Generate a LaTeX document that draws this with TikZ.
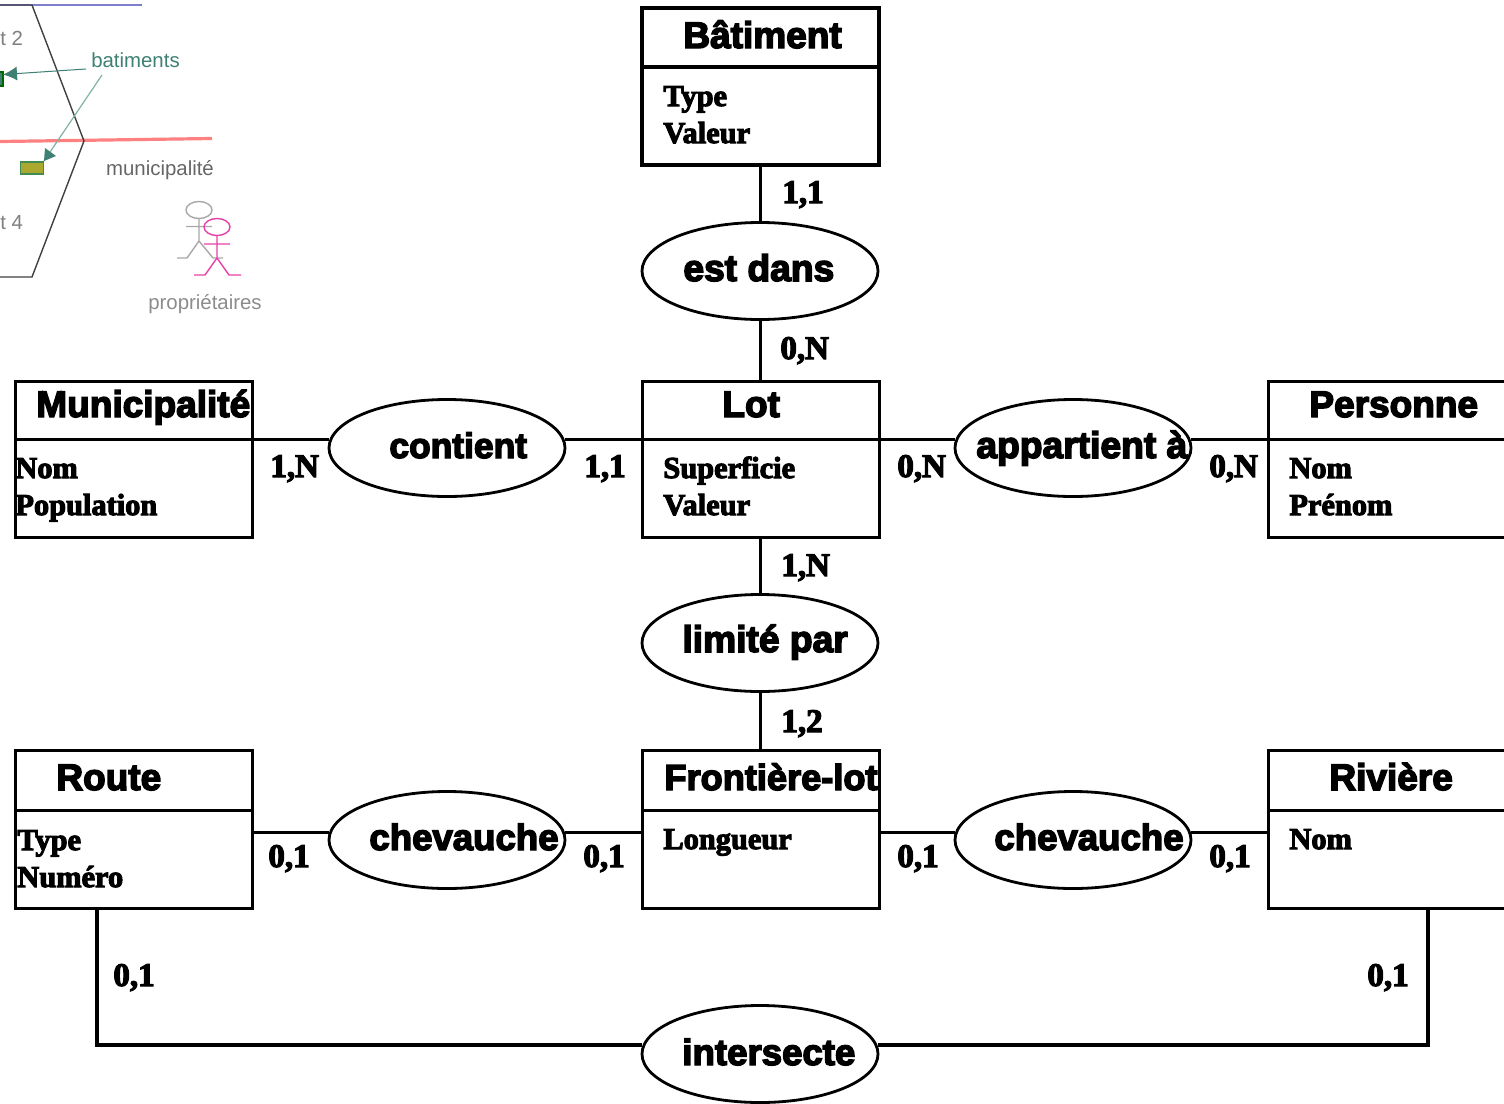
\documentclass[tikz,border=0pt]{standalone}
\usepackage{fontspec}
\setmainfont{Liberation Sans}
\newfontfamily\sansheavy[FakeBold=4]{Liberation Sans Bold}
\newfontfamily\serifheavy[FakeBold=3.5]{Liberation Serif Bold}
\usetikzlibrary{shapes.geometric,arrows.meta}
\definecolor{teal1}{HTML}{3E8073}
\definecolor{teal2}{HTML}{7FB3A7}
\definecolor{olivefill}{HTML}{ABA830}
\definecolor{olivedraw}{HTML}{3F8A55}
\definecolor{pinkp}{HTML}{E93FA8}
\definecolor{grayp}{HTML}{A8A8A8}
\tikzset{
  x=0.5pt,y=-0.5pt,
  ebox/.style={draw=black,line width=1.5pt,rectangle,inner sep=0pt,outer sep=0pt,minimum width=118.5pt,anchor=north west},
  rel/.style={draw=black,line width=1.4pt,ellipse,inner sep=0pt,outer sep=0pt,minimum width=118pt,minimum height=48.5pt,fill=white},
  link/.style={draw=black,line width=1.5pt},
  heavylink/.style={draw=black,line width=2.4pt},
  titletext/.style={inner sep=0pt,anchor=base west,font=\sansheavy\fontsize{18.5}{20}\selectfont},
  reltext/.style={inner sep=0pt,anchor=base west,font=\sansheavy\fontsize{18.6}{20}\selectfont},
  attrtext/.style={inner sep=0pt,anchor=base west,font=\serifheavy\fontsize{15.2}{18.5}\selectfont,align=left},
  cardtext/.style={inner sep=0pt,anchor=base west,font=\serifheavy\fontsize{16.5}{18}\selectfont},
  smalltext/.style={inner sep=0pt,font=\fontsize{10.2}{12}\selectfont},
}
\begin{document}
\begin{tikzpicture}
\clip (0,0) rectangle (1504,1103);
\fill[white] (0,0) rectangle (1504,1103);
% sketch, top left
\coordinate (bl) at (0,5); \coordinate (bm) at (32,5); \coordinate (br) at (142,5);
\coordinate (vx) at (84,141); \coordinate (bt) at (32,277); \coordinate (bz) at (0,277);
\coordinate (rl) at (0,141.5); \coordinate (rr) at (212,138.5);
\draw[line width=1pt,color=blue!45!gray!70] (bl) -- (br);
\draw[line width=1.6pt,color=red!50] (rl) -- (rr);
\draw[line width=0.7pt,color=black!75] (bl) -- (bm) -- (vx) -- (bt) -- (bz);
\node[smalltext,text=black!50,anchor=base west] (t2) at (0,46) {t 2};
\node[smalltext,text=black!50,anchor=base west] (t4) at (0,229) {t 4};
\node[smalltext,text=teal1] (bat) at (135.5,60) {batiments};
\node[smalltext,text=black!60] (mun2) at (160,170) {municipalité};
\node[smalltext,text=black!45] (prop) at (205,304) {propriétaires};
\node[draw=olivedraw,fill=olivefill,line width=0.7pt,minimum width=11.5pt,minimum height=6pt,inner sep=0pt] (bb) at (32,168) {};
\node[draw=green!40!black,fill=teal1,line width=0.7pt,minimum width=6pt,minimum height=7pt,inner sep=0pt] (ba) at (-3,79) {};
\coordinate (a1s) at (86,69); \coordinate (a1e) at (3,74.5);
\coordinate (a2s) at (102,75); \coordinate (a2e) at (44,161);
\draw[color=teal1,line width=0.5pt,-{Latex[length=7pt,width=7pt]}] (a1s) -- (a1e);
\draw[color=teal2,line width=0.6pt] (a2s) -- (a2e);
\fill[teal1] (a2e) -- (45,148) -- (56,156) -- cycle;
% stick people
\begin{scope}[line width=0.7pt,color=grayp]
\draw (199,210) ellipse [x radius=13,y radius=8.5];
\draw (199,218.5) -- (199,241) (186,226.5) -- (212,226.5) (177,258) -- (187,258) -- (199,241) -- (213,258) -- (223,258);
\end{scope}
\begin{scope}[line width=0.7pt,color=pinkp]
\draw (217,227) ellipse [x radius=13,y radius=8.5];
\draw (217,235.5) -- (217,258) (204,244) -- (230,244) (194,275) -- (205,275) -- (217,258) -- (229,275) -- (241,275);
\end{scope}
% entities
\node[ebox,line width=2.4pt,minimum height=29.5pt] (bath) at (642,8) {};
\node[ebox,line width=2.4pt,minimum height=49pt] (batb) at (642,67) {};
\node[ebox,minimum height=29pt] (loth) at (642,381) {};
\node[ebox,minimum height=49pt] (lotb) at (642,439) {};
\node[ebox,minimum height=29pt] (munh) at (15,381) {};
\node[ebox,minimum height=49pt] (munb) at (15,439) {};
\node[ebox,minimum height=29pt] (perh) at (1268,381) {};
\node[ebox,minimum height=49pt] (perb) at (1268,439) {};
\node[ebox,minimum height=30pt] (frh) at (642,750) {};
\node[ebox,minimum height=49pt] (frb) at (642,810) {};
\node[ebox,minimum height=30pt] (rth) at (15,750) {};
\node[ebox,minimum height=49pt] (rtb) at (15,810) {};
\node[ebox,minimum height=30pt] (rvh) at (1268,750) {};
\node[ebox,minimum height=49pt] (rvb) at (1268,810) {};
% relationships
\node[rel] (estdans) at (760,271) {};
\node[rel] (contient) at (447,448) {};
\node[rel] (appart) at (1073,448) {};
\node[rel] (limite) at (760,643) {};
\node[rel] (chevg) at (447,840) {};
\node[rel] (chevd) at (1073,840) {};
\node[rel] (inter) at (760,1054) {};
% connectors
\draw[link] (batb.south -| estdans.north) -- (estdans.north);
\draw[link] (estdans.south) -- (loth.north -| estdans.south);
\draw[link] (lotb.south -| limite.north) -- (limite.north);
\draw[link] (limite.south) -- (frh.north -| limite.south);
\draw[link] (munh.south east) -- (contient.west |- munh.south east);
\draw[link] (contient.east |- loth.south west) -- (loth.south west);
\draw[link] (loth.south east) -- (appart.west |- loth.south east);
\draw[link] (appart.east |- perh.south west) -- (perh.south west);
\draw[link] (rth.south east) ++(0,22) coordinate (rtc) (rtc) -- (chevg.west |- rtc);
\draw[link] (frh.south west) ++(0,22) coordinate (frl) (frl) -- (chevg.east |- frl);
\draw[link] (frh.south east) ++(0,22) coordinate (frr) (frr) -- (chevd.west |- frr);
\draw[link] (rvh.south west) ++(0,22) coordinate (rvc) (rvc) -- (chevd.east |- rvc);
\coordinate (rtdown) at (97,1045); \coordinate (rvdown) at (1428,1045);
\draw[heavylink] (rtb.south -| rtdown) -- (rtdown) -- (inter.west |- rtdown);
\draw[heavylink] (rvb.south -| rvdown) -- (rvdown) -- (inter.east |- rvdown);
% entity titles
\node[titletext] (tbat) at (683,48) {Bâtiment};
\node[titletext] (tlot) at (722,417) {Lot};
\node[titletext] (tmun) at (36,417) {Municipalité};
\node[titletext] (tper) at (1309,417) {Personne};
\node[titletext] (trt) at (56,790) {Route};
\node[titletext,font=\sansheavy\fontsize{18.1}{20}\selectfont] (tfr) at (664,790) {Frontière-lot};
\node[titletext] (trv) at (1329,790) {Rivière};
% attributes
\node[attrtext] (abat) at (663,143) {Type\\Valeur};
\node[attrtext] (amun) at (15,515) {Nom\\Population};
\node[attrtext] (alot) at (663,515) {Superficie\\Valeur};
\node[attrtext] (aper) at (1289,515) {Nom\\Prénom};
\node[attrtext] (art) at (17,887) {Type\\Numéro};
\node[attrtext] (afr) at (663,849) {Longueur};
\node[attrtext] (arv) at (1289,849) {Nom};
% relationship names
\node[reltext] (restdans) at (683,281) {est dans};
\node[reltext,font=\sansheavy\fontsize{17.7}{20}\selectfont] (rcont) at (389,458) {contient};
\node[reltext] (rapp) at (976,458) {appartient à};
\node[reltext] (rlim) at (682,652) {limité par};
\node[reltext,font=\sansheavy\fontsize{18.3}{20}\selectfont] (rchg) at (369,850) {chevauche};
\node[reltext,font=\sansheavy\fontsize{18.3}{20}\selectfont] (rchd) at (994,850) {chevauche};
\node[reltext,font=\sansheavy\fontsize{18.3}{20}\selectfont] (rint) at (682,1065) {intersecte};
% cardinalities
\node[cardtext] (c1) at (782,203) {1,1};
\node[cardtext] (c2) at (780,359) {0,N};
\node[cardtext] (c3) at (270,477) {1,N};
\node[cardtext] (c4) at (584,477) {1,1};
\node[cardtext] (c5) at (897,477) {0,N};
\node[cardtext] (c6) at (1209,477) {0,N};
\node[cardtext] (c7) at (781,576) {1,N};
\node[cardtext] (c8) at (781,732) {1,2};
\node[cardtext] (c9) at (268,867) {0,1};
\node[cardtext] (c10) at (583,867) {0,1};
\node[cardtext] (c11) at (897,867) {0,1};
\node[cardtext] (c12) at (1209,867) {0,1};
\node[cardtext] (c13) at (113,986) {0,1};
\node[cardtext] (c14) at (1367,986) {0,1};
\end{tikzpicture}
\end{document}
